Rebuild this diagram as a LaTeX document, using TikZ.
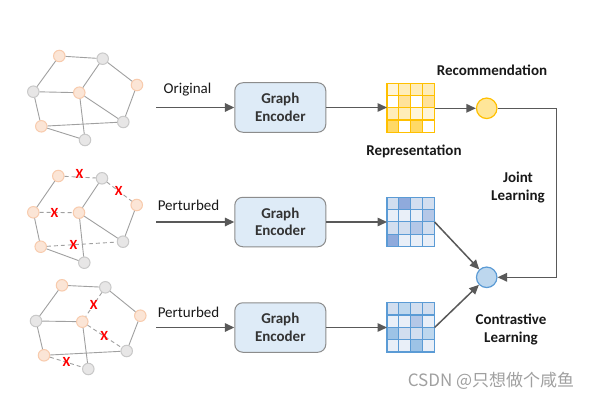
\documentclass[tikz,border=0pt]{standalone}
\usepackage{fontspec}
\setmainfont{Carlito}
\newfontfamily\cjk{Noto Sans CJK SC}
\usetikzlibrary{arrows.meta}
\definecolor{oF}{HTML}{FBE5D6}
\definecolor{oD}{HTML}{F8CBAD}
\definecolor{gF}{HTML}{E7E6E6}
\definecolor{gD}{HTML}{C9C9C9}
\definecolor{edgeC}{HTML}{A0A0A0}
\definecolor{arrC}{HTML}{595959}
\definecolor{encF}{HTML}{DEEBF7}
\definecolor{encD}{HTML}{8C8C8C}
\definecolor{yB}{HTML}{FFC000}
\definecolor{y1}{HTML}{FFF5DA}
\definecolor{y2}{HTML}{FFEDB8}
\definecolor{y3}{HTML}{FFE29A}
\definecolor{y4}{HTML}{FFD966}
\definecolor{yC}{HTML}{FFE699}
\definecolor{bB}{HTML}{5B9BD5}
\definecolor{b1}{HTML}{E9EFF8}
\definecolor{b2}{HTML}{D2DEEF}
\definecolor{b3}{HTML}{B4C7E7}
\definecolor{b4}{HTML}{8FAADC}
\definecolor{b5}{HTML}{BDD7EE}
\definecolor{b6}{HTML}{9DC3E6}
\definecolor{wm}{HTML}{A0A0A0}
\newcommand\drawmat[4]{%
  \node[matbox] (#1) at #2 {};
  \foreach \cc [count=\ii from 0] in {#4} {
    \pgfmathtruncatemacro\mrow{div(\ii,4)}
    \pgfmathtruncatemacro\mcol{mod(\ii,4)}
    \filldraw[fill=\cc, draw=#3, line width=1.2pt]
      ([xshift=\mcol*11.8pt, yshift=-\mrow*12.3pt]#1.north west) rectangle ++(11.8,12.3);
  }
}
\begin{document}
\begin{tikzpicture}[x=1pt,y=-1pt,
  onode/.style={circle, fill=oF, draw=oD, line width=1pt, minimum size=11.5pt, inner sep=0pt},
  gnode/.style={circle, fill=gF, draw=gD, line width=1pt, minimum size=11.5pt, inner sep=0pt},
  gedge/.style={draw=edgeC, line width=0.9pt},
  dedge/.style={draw=edgeC, line width=0.9pt, dash pattern=on 4pt off 3pt},
  xmark/.style={text=red, font=\fontsize{14}{14}\selectfont\bfseries, inner sep=0pt},
  arr/.style={draw=arrC, line width=1.5pt, -{Triangle[length=9.5pt,width=8.5pt]}},
  enc/.style={rectangle, rounded corners=8pt, fill=encF, draw=encD, line width=1pt,
    minimum width=91pt, minimum height=49.5pt, align=center, inner sep=0pt,
    font=\fontsize{15}{17.5}\selectfont\bfseries, text=black!80},
  lbl/.style={font=\fontsize{15}{18}\selectfont, align=center, text=black!90},
  blbl/.style={font=\fontsize{15}{18}\selectfont\bfseries, align=center, text=black!90},
  matbox/.style={rectangle, minimum width=47.2pt, minimum height=49.2pt, inner sep=0pt},
]
\useasboundingbox (0,0) rectangle (599,401);
\fill[white] (0,0) rectangle (599,401);

% ---- Graph 1 (original)
\node[onode] (a1) at (59.3,56) {};
\node[gnode] (b1) at (102.7,58.7) {};
\node[onode] (c1) at (137,85) {};
\node[gnode] (d1) at (33.3,91.7) {};
\node[onode] (e1) at (79.3,92.7) {};
\node[gnode] (f1) at (123.3,122) {};
\node[onode] (g1) at (41.3,126.3) {};
\node[gnode] (h1) at (85,140) {};
\draw[gedge] (a1) -- (b1);
\draw[gedge] (b1) -- (c1);
\draw[gedge] (a1) -- (d1);
\draw[gedge] (b1) -- (e1);
\draw[gedge] (d1) -- (e1);
\draw[gedge] (c1) -- (f1);
\draw[gedge] (e1) -- (f1);
\draw[gedge] (d1) -- (g1);
\draw[gedge] (e1) -- (h1);
\draw[gedge] (g1) -- (f1);
\draw[gedge] (g1) -- (h1);

% ---- Graph 2 (perturbed)
\node[onode] (a2) at (58.3,176) {};
\node[gnode] (b2) at (102,178.3) {};
\node[onode] (c2) at (136.7,205) {};
\node[onode] (d2) at (33.3,212.3) {};
\node[onode] (e2) at (79,212.7) {};
\node[gnode] (f2) at (123,241.7) {};
\node[onode] (g2) at (40.7,246.7) {};
\node[gnode] (h2) at (84.3,262.7) {};
\draw[dedge] (a2) -- node[xmark, pos=0.48, yshift=3pt] (x21) {X} (b2);
\draw[dedge] (b2) -- node[xmark, pos=0.47] (x22) {X} (c2);
\draw[gedge] (a2) -- (d2);
\draw[gedge] (b2) -- (e2);
\draw[dedge] (d2) -- node[xmark, pos=0.45] (x23) {X} (e2);
\draw[gedge] (c2) -- (f2);
\draw[gedge] (e2) -- (f2);
\draw[gedge] (d2) -- (g2);
\draw[gedge] (e2) -- (h2);
\draw[dedge] (g2) -- node[xmark, pos=0.38] (x24) {X} (f2);
\draw[gedge] (g2) -- (h2);

% ---- Graph 3 (perturbed)
\node[onode] (a3) at (62,285.3) {};
\node[gnode] (b3) at (105.3,287.3) {};
\node[onode] (c3) at (140.3,315.7) {};
\node[gnode] (d3) at (36,321) {};
\node[onode] (e3) at (82.3,321.7) {};
\node[gnode] (f3) at (126.7,351) {};
\node[onode] (g3) at (44,355.3) {};
\node[gnode] (h3) at (88.3,369) {};
\draw[gedge] (a3) -- (b3);
\draw[gedge] (b3) -- (c3);
\draw[gedge] (a3) -- (d3);
\draw[dedge] (b3) -- node[xmark, pos=0.51] (x31) {X} (e3);
\draw[gedge] (d3) -- (e3);
\draw[gedge] (c3) -- (f3);
\draw[dedge] (e3) -- node[xmark, pos=0.49] (x32) {X} (f3);
\draw[gedge] (d3) -- (g3);
\draw[gedge] (e3) -- (h3);
\draw[gedge] (g3) -- (f3);
\draw[dedge] (g3) -- node[xmark, pos=0.51] (x33) {X} (h3);

% ---- Encoders
\node[enc] (enc1) at (280.3,107.5) {Graph\\Encoder};
\node[enc] (enc2) at (280.3,222) {Graph\\Encoder};
\node[enc] (enc3) at (280.3,327.5) {Graph\\Encoder};

\coordinate (in1) at (156,107.5);
\coordinate (in2) at (156,222);
\coordinate (in3) at (156,327.5);
\draw[arr] (in1) -- (enc1.west);
\draw[arr] (in2) -- (enc2.west);
\draw[arr] (in3) -- (enc3.west);
\node[lbl] (lo) at (187.5,89.5) {Original};
\node[lbl] (lp2) at (188.5,205) {Perturbed};
\node[lbl] (lp3) at (188.5,312) {Perturbed};

% ---- Matrices
\drawmat{mat1}{(410.8,108)}{yB}{y1,y2,y2,y2, white,y3,white,y3, y2,y2,y1,y1, y4,white,y4,white}
\drawmat{mat2}{(410.8,222)}{bB}{b2,b4,b2,b2, b1,b1,b1,b3, b2,b2,b3,b2, b4,b1,b1,b1}
\drawmat{mat3}{(410.8,327.5)}{bB}{b2,b5,b2,b2, b1,b1,b3,b1, b6,b2,b2,b5, b1,b1,b6,b1}

\draw[arr] (enc1.east) -- (mat1.west |- enc1.east);
\draw[arr] (enc2.east) -- (mat2.west |- enc2.east);
\draw[arr] (enc3.east) -- (mat3.west |- enc3.east);

% ---- Circles
\node[circle, fill=yC, draw=yB, line width=1.2pt, minimum size=20.5pt, inner sep=0pt] (rc) at (486.7,108.3) {};
\node[circle, fill=b5, draw=bB, line width=1.2pt, minimum size=20.5pt, inner sep=0pt] (bc) at (486.7,277.3) {};

\draw[arr] (mat1.east |- rc) -- (rc.west);
\draw[arr] (mat2.east) -- (bc);
\draw[arr] (mat3.east) -- (bc);
\coordinate (jt) at (556.7,108.3);
\draw[arr] (rc.east) -- (jt) |- (bc.east);

% ---- Labels
\node[blbl] (lrec) at (492,70) {Recommendation};
\node[blbl] (lrep) at (414,151) {Representation};
\node[blbl] (ljl) at (518,187.5) {Joint\\Learning};
\node[blbl] (lcl) at (511,329.5) {Contrastive\\Learning};

% ---- Watermark
\node[text=wm, font=\cjk\fontsize{17}{17}\selectfont, inner sep=0pt] (wmk) at (491,381) {CSDN @只想做个咸鱼};
\end{tikzpicture}
\end{document}
